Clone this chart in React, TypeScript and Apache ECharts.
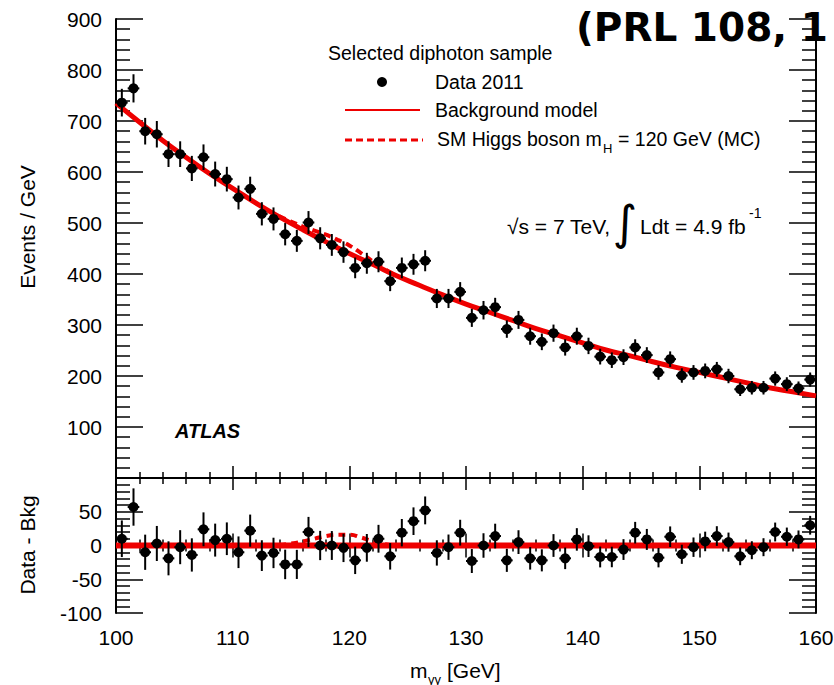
import React, { useEffect, useRef } from "react";
import * as echarts from "echarts";

// Bin centres (GeV) of the diphoton invariant-mass histogram
const massBins = [
  100.5, 101.5, 102.5, 103.5, 104.5, 105.5, 106.5, 107.5, 108.5, 109.5,
  110.5, 111.5, 112.5, 113.5, 114.5, 115.5, 116.5, 117.5, 118.5, 119.5,
  120.5, 121.5, 122.5, 123.5, 124.5, 125.5, 126.5, 127.5, 128.5, 129.5,
  130.5, 131.5, 132.5, 133.5, 134.5, 135.5, 136.5, 137.5, 138.5, 139.5,
  140.5, 141.5, 142.5, 143.5, 144.5, 145.5, 146.5, 147.5, 148.5, 149.5,
  150.5, 151.5, 152.5, 153.5, 154.5, 155.5, 156.5, 157.5, 158.5, 159.5,
];

// Events / GeV (Data 2011)
const dataEvents = [
  736, 764, 680, 674, 635, 635, 607, 629, 596, 586,
  550, 567, 518, 508, 478, 465, 501, 470, 457, 443,
  412, 421, 424, 386, 412, 419, 426, 352, 352, 365,
  314, 329, 335, 292, 310, 278, 267, 284, 256, 278,
  259, 238, 231, 237, 256, 241, 207, 233, 201, 207,
  210, 213, 200, 174, 177, 177, 195, 184, 176, 193,
];

// Data - Bkg residuals
const residuals = [
  10, 57, -10, 3, -19, -2.5, -14, 24, 8, 10,
  -10, 22, -15, -11, -28, -28, 20, 0, 0, -3.5,
  -22, -3.5, 10, -16, 19, 36, 52, -11, -2.5, 19,
  -23, 0, 14, -22, 5, -19, -22, 0, -19, 9,
  -1, -17, -17, -6, 19, 9, -18, 13, -13, -2.5,
  6, 14, 5, -16, -7, -2.5, 20, 13, 9, 30,
];

// Background model curve
const bkgMass = [
  100, 102, 104, 106, 108, 110, 112, 114, 116, 118, 120, 122, 124, 126, 128,
  130, 132, 134, 136, 138, 140, 142, 144, 146, 148, 150, 152, 154, 156, 158, 160,
];
const bkgEvents = [
  735, 698, 662, 629, 597, 568, 539, 512, 487, 463, 440, 419, 397, 378, 359,
  341, 325, 309, 293, 279, 265, 251, 240, 228, 217, 207, 197, 187, 177, 169, 161,
];

// SM Higgs (mH = 120 GeV) expectation
const sigMass = [114, 115, 116, 117, 118, 119, 120, 121, 122, 123, 124];
const sigPlusBkg = [513, 503, 493, 485, 477, 467, 456, 441, 425, 410, 397];
const sigOnly = [1, 3, 6, 10, 14, 16, 16, 12, 6, 2, 0];

const zeroLine = [
  [100, 0],
  [160, 0],
];

const RED = "#ee0000";
const FONT = "Liberation Sans, Arial, Helvetica, sans-serif";

function errorBarItem(params: any, api: any) {
  const x = api.value(0);
  const y = api.value(1);
  const e = api.value(2);
  const c = api.coord([x, y]);
  const t = api.coord([x, y + e]);
  const b = api.coord([x, y - e]);
  const l = api.coord([x - 0.5, y]);
  const r = api.coord([x + 0.5, y]);
  return {
    type: "group",
    children: [
      { type: "line", shape: { x1: c[0], y1: t[1], x2: c[0], y2: b[1] }, style: { stroke: "#000", lineWidth: 2 } },
      { type: "line", shape: { x1: l[0], y1: c[1], x2: r[0], y2: c[1] }, style: { stroke: "#000", lineWidth: 2 } },
      { type: "circle", shape: { cx: c[0], cy: c[1], r: 5 }, style: { fill: "#000" } },
    ],
  };
}

function txt(text: string, x: number, y: number, extra: any = {}) {
  const { align = "left", fontSize = 20, fontWeight = "normal", fontStyle = "normal", fontFamily = FONT, rotation = 0 } = extra;
  return {
    type: "text",
    x,
    y,
    rotation,
    z: 100,
    style: {
      text,
      fill: "#000",
      fontSize,
      fontWeight,
      fontStyle,
      fontFamily,
      align,
      textAlign: align,
      verticalAlign: "middle",
      textVerticalAlign: "middle",
    },
  };
}

export default function App() {
  const ref = useRef<HTMLDivElement>(null);

  useEffect(() => {
    if (!ref.current) return;
    const chart = echarts.init(ref.current, undefined, { renderer: "svg" });

    const errs = dataEvents.map((v) => Math.sqrt(v));
    const topPts = massBins.map((m, i) => [m, dataEvents[i], errs[i]]);
    const lowPts = massBins.map((m, i) => [m, residuals[i], errs[i]]);

    const axisLine = { show: true, lineStyle: { color: "#000", width: 2 } };
    const xCommon = (gridIndex: number, position: string, showLabel: boolean) => ({
      type: "value",
      gridIndex,
      position,
      min: 100,
      max: 160,
      interval: 10,
      axisLine,
      axisTick: { show: true, inside: true, length: 12, lineStyle: { color: "#000", width: 1.5 } },
      minorTick: { show: true, splitNumber: 5, length: 6, lineStyle: { color: "#000", width: 1.5 } },
      splitLine: { show: false },
      axisLabel: { show: showLabel, color: "#000", fontSize: 21, fontFamily: FONT, margin: 14 },
    });
    const yCommon = (gridIndex: number, position: string, showLabel: boolean, min: number, max: number, interval: number, hideMin: boolean) => ({
      type: "value",
      gridIndex,
      position,
      min,
      max,
      interval,
      axisLine,
      axisTick: { show: true, inside: true, length: 27, lineStyle: { color: "#000", width: 1.5 } },
      minorTick: { show: true, splitNumber: 5, length: 14, lineStyle: { color: "#000", width: 1.5 } },
      splitLine: { show: false },
      axisLabel: {
        show: showLabel,
        color: "#000",
        fontSize: 21,
        fontFamily: FONT,
        margin: 14,
        showMinLabel: !hideMin,
        showMaxLabel: hideMin,
      },
    });

    chart.setOption({
      animation: false,
      backgroundColor: "#fff",
      grid: [
        { left: 116, top: 19, width: 700, height: 459, outerBoundsMode: "none", containLabel: false },
        { left: 116, top: 478, width: 700, height: 135, outerBoundsMode: "none", containLabel: false },
      ],
      xAxis: [
        xCommon(0, "bottom", false),
        xCommon(0, "top", false),
        xCommon(1, "top", false),
        xCommon(1, "bottom", true),
      ],
      yAxis: [
        yCommon(0, "left", true, 0, 900, 100, true),
        yCommon(0, "right", false, 0, 900, 100, true),
        yCommon(1, "left", true, -100, 100, 50, false),
        yCommon(1, "right", false, -100, 100, 50, false),
      ],
      series: [
        {
          type: "line",
          xAxisIndex: 0,
          yAxisIndex: 0,
          data: bkgMass.map((m, i) => [m, bkgEvents[i]]),
          smooth: true,
          showSymbol: false,
          lineStyle: { color: RED, width: 5 },
          z: 2,
        },
        {
          type: "line",
          xAxisIndex: 0,
          yAxisIndex: 0,
          data: sigMass.map((m, i) => [m, sigPlusBkg[i]]),
          smooth: true,
          showSymbol: false,
          lineStyle: { color: RED, width: 4, type: [7, 5] },
          z: 2,
        },
        {
          type: "custom",
          xAxisIndex: 0,
          yAxisIndex: 0,
          data: topPts,
          encode: { x: 0, y: 1 },
          renderItem: errorBarItem,
          z: 5,
        },
        {
          type: "line",
          xAxisIndex: 3,
          yAxisIndex: 2,
          data: zeroLine,
          showSymbol: false,
          lineStyle: { color: RED, width: 6 },
          z: 2,
        },
        {
          type: "line",
          xAxisIndex: 3,
          yAxisIndex: 2,
          data: sigMass.map((m, i) => [m, sigOnly[i]]),
          smooth: true,
          showSymbol: false,
          lineStyle: { color: RED, width: 4, type: [7, 5] },
          z: 3,
        },
        {
          type: "custom",
          xAxisIndex: 3,
          yAxisIndex: 2,
          data: lowPts,
          encode: { x: 0, y: 1 },
          renderItem: errorBarItem,
          z: 5,
        },
      ],
      graphic: [
        // legend
        txt("Selected diphoton sample", 328, 53, { fontSize: 19.5 }),
        { type: "circle", shape: { cx: 382, cy: 82, r: 5 }, style: { fill: "#000" }, z: 100 },
        txt("Data 2011", 435, 82, { fontSize: 19.5 }),
        { type: "line", shape: { x1: 345, y1: 110, x2: 420, y2: 110 }, style: { stroke: RED, lineWidth: 2 }, z: 100 },
        txt("Background model", 435, 110, { fontSize: 19.5 }),
        { type: "line", shape: { x1: 345, y1: 140, x2: 423, y2: 140 }, style: { stroke: RED, lineWidth: 3, lineDash: [7, 4] }, z: 100 },
        txt("SM Higgs boson m", 437, 139, { fontSize: 19.5 }),
        txt("H", 603, 148, { fontSize: 13 }),
        txt("= 120 GeV (MC)", 618, 139, { fontSize: 19.5 }),
        // energy / luminosity
        txt("\u221As = 7 TeV,", 507, 226, { fontSize: 21 }),
        txt("\u222B", 625, 222, { fontSize: 47, align: "center", fontFamily: "DejaVu Sans" }),
        txt("Ldt = 4.9 fb", 640, 226, { fontSize: 21 }),
        txt("-1", 749, 213, { fontSize: 14 }),
        // ATLAS
        txt("ATLAS", 175, 431, { fontSize: 20, fontWeight: "bold", fontStyle: "italic" }),
        // axis titles
        txt("Events / GeV", 27, 227, { fontSize: 21, align: "center", rotation: Math.PI / 2 }),
        txt("Data - Bkg", 27, 545, { fontSize: 21, align: "center", rotation: Math.PI / 2 }),
        txt("m", 410, 670, { fontSize: 21 }),
        txt("\u03B3\u03B3", 428, 679, { fontSize: 13 }),
        txt("[GeV]", 447, 670, { fontSize: 21 }),
        // overlay reference
        txt("(PRL 108, 1", 576, 27, { fontSize: 39, fontWeight: "bold", fontFamily: "DejaVu Sans" }),
      ],
    });

    return () => chart.dispose();
  }, []);

  return (
    <div
      ref={ref}
      style={{ position: "fixed", left: 0, top: 0, width: 834, height: 685, background: "#fff" }}
    />
  );
}
